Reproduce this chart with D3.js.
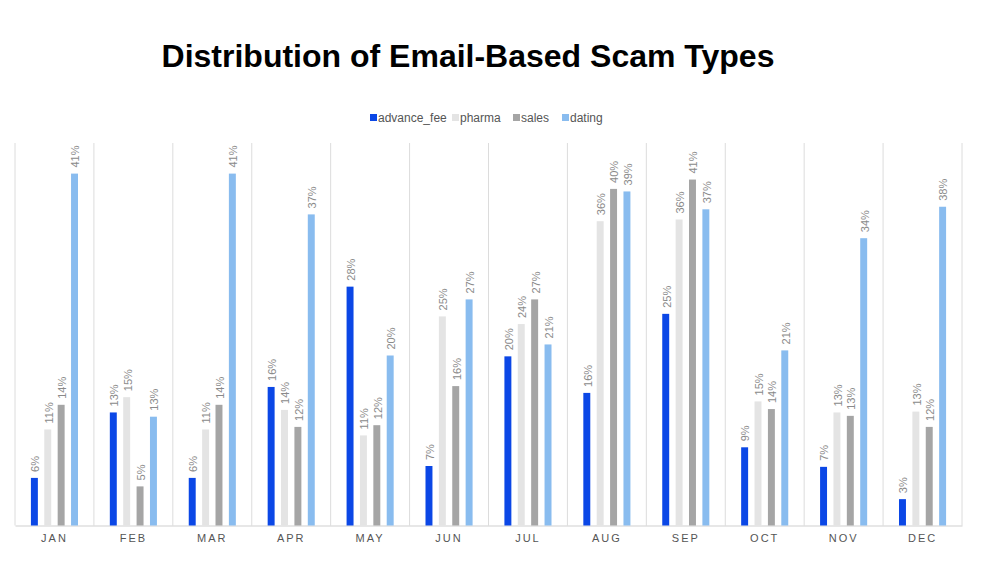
<!DOCTYPE html>
<html>
<head>
<meta charset="utf-8">
<script src="https://cdn.jsdelivr.net/npm/d3@7"></script>
<style>
  body { margin: 0; background: #fff; }
  svg { display: block; font-family: "Liberation Sans", Arial, sans-serif; }
</style>
</head>
<body>
<svg id="chart" width="997" height="575"></svg>
<script>
const months = ["JAN","FEB","MAR","APR","MAY","JUN","JUL","AUG","SEP","OCT","NOV","DEC"];
const seriesNames = ["advance_fee","pharma","sales","dating"];
const advanceFee = [5.6, 13.3, 5.6, 16.3, 28.1, 7.0, 19.9, 15.6, 24.9, 9.2, 6.9, 3.1];
const pharma     = [11.3, 15.1, 11.3, 13.6, 10.6, 24.6, 23.7, 35.8, 36.0, 14.6, 13.3, 13.4];
const sales      = [14.2, 4.6, 14.2, 11.6, 11.8, 16.4, 26.6, 39.6, 40.7, 13.7, 12.9, 11.6];
const dating     = [41.4, 12.8, 41.4, 36.6, 20.0, 26.6, 21.3, 39.3, 37.2, 20.6, 33.8, 37.5];
const colors = ["#0b47e6", "#e4e4e4", "#a5a5a5", "#89bcef"];

const seriesValues = [advanceFee, pharma, sales, dating];
const svg = d3.select("#chart");

const plotLeft = 15, plotRight = 962, plotBottom = 525.5, plotTop = 143;

const x0 = d3.scaleBand().domain(months).range([plotLeft, plotRight]).paddingInner(0).paddingOuter(0);
const x1 = d3.scaleBand().domain(seriesNames).range([12.7, x0.bandwidth() - 12.7]).paddingInner(0.48).paddingOuter(0.24);
const y = d3.scaleLinear().domain([0, 45]).range([plotBottom, plotTop]);

// Title
svg.append("text")
  .attr("x", 468).attr("y", 67)
  .attr("text-anchor", "middle")
  .style("font-size", "32px").style("font-weight", "bold").style("fill", "#000")
  .text("Distribution of Email-Based Scam Types");

// Legend
const legendX = [370, 452, 513, 562];
const lg = svg.append("g");
seriesNames.forEach((s, i) => {
  const lx = legendX[i];
  lg.append("rect").attr("x", lx).attr("y", 114).attr("width", 7).attr("height", 7).attr("fill", colors[i]);
  lg.append("text").attr("x", lx + 8).attr("y", 122)
    .style("font-size", "12px").style("fill", "#555").text(s);
});

// Vertical separators
const seps = months.map(m => x0(m)).concat([plotRight]);
svg.append("g").selectAll("line").data(seps).join("line")
  .attr("x1", d => d).attr("x2", d => d)
  .attr("y1", plotTop).attr("y2", plotBottom)
  .attr("stroke", "#dcdcdc").attr("stroke-width", 1);

// Baseline axis
const xAxis = d3.axisBottom(x0).tickSize(0).tickPadding(9);
const ax = svg.append("g").attr("transform", `translate(0,${plotBottom})`).call(xAxis);
ax.select(".domain").attr("stroke", "#cfcfcf");
ax.selectAll("text").style("font-size", "11px").style("fill", "#555")
  .style("letter-spacing", "2px").style("font-family", "'Liberation Sans', Arial, sans-serif");

// Bars
const groups = svg.append("g").selectAll("g").data(months).join("g")
  .attr("transform", d => `translate(${x0(d)},0)`);

groups.each(function(m, mi) {
  const g = d3.select(this);
  seriesNames.forEach((s, si) => {
    const v = seriesValues[si][mi];
    g.append("rect")
      .attr("x", x1(s)).attr("width", x1.bandwidth())
      .attr("y", y(v)).attr("height", plotBottom - y(v))
      .attr("fill", colors[si]);
    const cx = x1(s) + x1.bandwidth() / 2;
    g.append("text")
      .attr("transform", `translate(${cx + 1},${y(v) - 6}) rotate(-90)`)
      .attr("dy", "0.35em")
      .style("font-size", "11px").style("fill", "#8a8a8a")
      .text(Math.round(v) + "%");
  });
});
</script>
</body>
</html>
